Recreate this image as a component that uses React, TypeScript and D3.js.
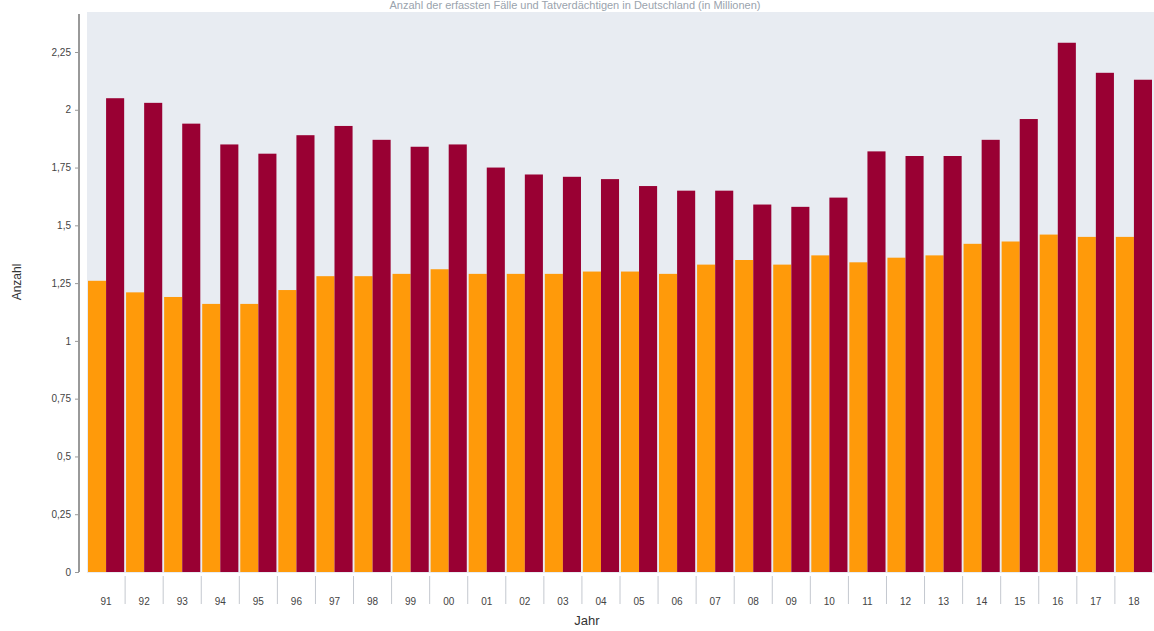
import React, { useEffect, useRef } from 'react';
import * as d3 from 'd3';

const years = ['91', '92', '93', '94', '95', '96', '97', '98', '99', '00', '01', '02', '03', '04',
  '05', '06', '07', '08', '09', '10', '11', '12', '13', '14', '15', '16', '17', '18'];
const seriesA = [1.26, 1.21, 1.19, 1.16, 1.16, 1.22, 1.28, 1.28, 1.29, 1.31, 1.29, 1.29, 1.29, 1.30,
  1.30, 1.29, 1.33, 1.35, 1.33, 1.37, 1.34, 1.36, 1.37, 1.42, 1.43, 1.46, 1.45, 1.45];
const seriesB = [2.05, 2.03, 1.94, 1.85, 1.81, 1.89, 1.93, 1.87, 1.84, 1.85, 1.75, 1.72, 1.71, 1.70,
  1.67, 1.65, 1.65, 1.59, 1.58, 1.62, 1.82, 1.80, 1.80, 1.87, 1.96, 2.29, 2.16, 2.13];
const yTicks = [0, 0.25, 0.5, 0.75, 1, 1.25, 1.5, 1.75, 2, 2.25];
const title = 'Anzahl der erfassten Fälle und Tatverdächtigen in Deutschland (in Millionen)';

export default function App() {
  const svgRef = useRef<SVGSVGElement>(null);

  useEffect(() => {
    if (!svgRef.current) return;
    const width = 1154;
    const height = 631;
    const plot = { left: 87, top: 12, right: 1154, bottom: 573 };

    const svg = d3.select(svgRef.current);
    svg.selectAll('*').remove();
    svg.attr('width', width).attr('height', height);

    const font = 'Arial, "Liberation Sans", sans-serif';

    // plot background
    svg.append('rect')
      .attr('x', plot.left)
      .attr('y', plot.top)
      .attr('width', plot.right - plot.left)
      .attr('height', plot.bottom - plot.top)
      .attr('fill', '#e8ecf2');

    // title
    svg.append('text')
      .attr('x', 575)
      .attr('y', 9)
      .attr('text-anchor', 'middle')
      .attr('font-family', font)
      .attr('font-size', 11)
      .attr('fill', '#9aa3ad')
      .text(title);

    const y = d3.scaleLinear().domain([0, 2.25]).range([572, 52]);

    const x0 = d3.scaleBand<string>()
      .domain(years)
      .range([88, 88 + years.length * 38])
      .paddingInner(0.05)
      .paddingOuter(0);

    const x1 = d3.scaleBand<string>()
      .domain(['a', 'b'])
      .range([0, x0.bandwidth()]);

    const g = svg.append('g');

    // orange bars
    g.selectAll('rect.a')
      .data(seriesA)
      .join('rect')
      .attr('class', 'a')
      .attr('x', (d, i) => x0(years[i])! + x1('a')!)
      .attr('y', d => y(d))
      .attr('width', x1.bandwidth())
      .attr('height', d => y(0) - y(d))
      .attr('fill', '#ff9a0a');

    // red bars
    g.selectAll('rect.b')
      .data(seriesB)
      .join('rect')
      .attr('class', 'b')
      .attr('x', (d, i) => x0(years[i])! + x1('b')!)
      .attr('y', d => y(d))
      .attr('width', x1.bandwidth())
      .attr('height', d => y(0) - y(d))
      .attr('fill', '#990033');

    // y axis
    const yAxis = svg.append('g')
      .attr('transform', 'translate(79,0)')
      .call(d3.axisLeft(y)
        .tickValues(yTicks)
        .tickSize(4)
        .tickFormat(d => String(d).replace('.', ',')));
    yAxis.select('.domain').attr('stroke', '#777').attr('stroke-width', 1.5)
      .attr('d', `M0,${plot.top + 2}V${y(0)}`);
    yAxis.selectAll('.tick line').attr('stroke', '#999');
    yAxis.selectAll('.tick text')
      .attr('font-family', font)
      .attr('font-size', 10)
      .attr('fill', '#444')
      .attr('x', -8);

    // x axis
    const step = x0.step();
    const xAxis = svg.append('g').attr('transform', `translate(0,${y(0) + 4})`);
    xAxis.selectAll('line')
      .data(years.slice(1))
      .join('line')
      .attr('x1', d => x0(d)! - (step - x0.bandwidth()) / 2)
      .attr('x2', d => x0(d)! - (step - x0.bandwidth()) / 2)
      .attr('y1', 0)
      .attr('y2', 28)
      .attr('stroke', '#c4c8cf');
    xAxis.selectAll('text')
      .data(years)
      .join('text')
      .attr('x', d => x0(d)! + x0.bandwidth() / 2)
      .attr('y', 29)
      .attr('text-anchor', 'middle')
      .attr('font-family', font)
      .attr('font-size', 10)
      .attr('fill', '#444')
      .text(d => d);

    // axis titles
    svg.append('text')
      .attr('transform', 'translate(21,282) rotate(-90)')
      .attr('text-anchor', 'middle')
      .attr('font-family', font)
      .attr('font-size', 12)
      .attr('fill', '#333')
      .text('Anzahl');

    svg.append('text')
      .attr('x', 587)
      .attr('y', 625)
      .attr('text-anchor', 'middle')
      .attr('font-family', font)
      .attr('font-size', 13)
      .attr('fill', '#333')
      .text('Jahr');
  }, []);

  return (
    <div style={{ position: 'absolute', left: 0, top: 0 }}>
      <svg ref={svgRef} style={{ display: 'block' }} />
    </div>
  );
}
